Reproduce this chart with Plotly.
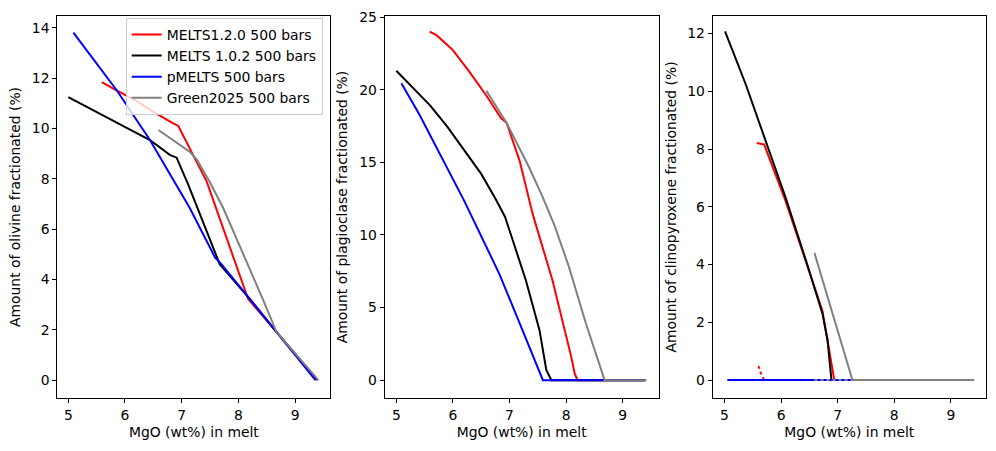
import plotly.graph_objects as go

# ---------------- data ----------------
models = ["MELTS1.2.0 500 bars", "MELTS 1.0.2 500 bars", "pMELTS 500 bars", "Green2025 500 bars"]
colors = ["red", "black", "blue", "grey"]

# Olivine
ol_red_x = [5.59, 5.85, 6.2, 6.5, 6.85, 6.94, 7.2, 7.44, 8.17, 8.67, 9.38]
ol_red_y = [11.84, 11.51, 11.1, 10.66, 10.2, 10.1, 8.95, 7.9, 3.23, 1.92, 0.0]
ol_blk_x = [5.0, 5.73, 6.44, 6.79, 6.91, 7.11, 7.67, 8.2, 8.67, 9.4]
ol_blk_y = [11.25, 10.39, 9.54, 8.95, 8.84, 7.8, 4.61, 3.23, 1.92, 0.0]
ol_blu_x = [5.09, 5.86, 6.44, 6.85, 7.14, 7.59, 7.70, 8.2, 8.67, 9.36]
ol_blu_y = [13.81, 11.5, 9.54, 7.93, 6.85, 4.87, 4.61, 3.23, 1.92, 0.0]
ol_gry_x = [6.59, 7.14, 7.27, 7.5, 7.73, 8.14, 8.44, 8.67, 9.41]
ol_gry_y = [9.94, 9.08, 8.75, 7.85, 6.85, 4.75, 3.17, 1.92, 0.0]

# Plagioclase
pl_red_x = [5.59, 5.71, 6.0, 6.29, 6.59, 6.85, 6.95, 7.18, 7.41, 7.76, 8.09, 8.15, 8.2, 9.4]
pl_red_y = [24.0, 23.75, 22.72, 21.24, 19.6, 18.04, 17.7, 15.08, 11.43, 6.86, 1.62, 0.48, 0.0, 0.0]
pl_blk_x = [5.0, 5.3, 5.6, 5.9, 6.2, 6.5, 6.75, 6.92, 7.06, 7.29, 7.53, 7.65, 7.74, 9.4]
pl_blk_y = [21.3, 20.1, 18.9, 17.45, 15.85, 14.2, 12.5, 11.25, 9.6, 6.86, 3.44, 0.71, 0.0, 0.0]
pl_blu_x = [5.09, 5.41, 6.2, 6.82, 7.18, 7.5, 7.59, 9.36]
pl_blu_y = [20.44, 18.27, 12.34, 7.32, 3.9, 0.82, 0.0, 0.0]
pl_gry_x = [6.59, 6.95, 7.35, 7.59, 7.8, 8.05, 8.35, 8.59, 8.68, 9.42]
pl_gry_y = [19.92, 17.7, 14.62, 12.57, 10.6, 7.8, 3.9, 1.16, 0.0, 0.0]

# Clinopyroxene
cpx_red_x = [5.57, 5.70, 6.08, 6.44, 6.73, 6.85, 6.94, 9.4]
cpx_red_y = [8.21, 8.16, 6.2, 4.1, 2.4, 1.04, 0.0, 0.0]
cpx_blk_x = [5.01, 5.38, 5.73, 6.08, 6.44, 6.73, 6.82, 6.89, 9.4]
cpx_blk_y = [12.08, 10.22, 8.27, 6.32, 4.14, 2.31, 1.39, 0.0, 0.0]
cpx_blu_x = [5.05, 6.0, 7.0, 8.0, 9.36]
cpx_blu_y = [0.0, 0.0, 0.0, 0.0, 0.0]
cpx_gry_x = [6.59, 7.2, 7.26, 9.41]
cpx_gry_y = [4.4, 0.36, 0.0, 0.0]
# secondary (dotted) series in the clinopyroxene panel
cpx_red_dot_x = [5.6, 5.64, 5.7, 9.4]
cpx_red_dot_y = [0.49, 0.26, 0.0, 0.0]
cpx_gry_dot_x = [6.59, 9.41]
cpx_gry_dot_y = [0.0, 0.0]

x_ticks = [5, 6, 7, 8, 9]
ol_ticks = [0, 2, 4, 6, 8, 10, 12, 14]
pl_ticks = [0, 5, 10, 15, 20, 25]
cpx_ticks = [0, 2, 4, 6, 8, 10, 12]

xtitle = "MgO (wt%) in melt"
ytitles = ["Amount of olivine fractionated (%)",
           "Amount of plagioclase fractionated (%)",
           "Amount of clinopyroxene fractionated (%)"]

# ---------------- figure ----------------
FONT = "DejaVu Sans"
FS = 13.9
fig = go.Figure()
LW = 2

ol = [(ol_red_x, ol_red_y), (ol_blk_x, ol_blk_y), (ol_blu_x, ol_blu_y), (ol_gry_x, ol_gry_y)]
pl = [(pl_red_x, pl_red_y), (pl_blk_x, pl_blk_y), (pl_blu_x, pl_blu_y), (pl_gry_x, pl_gry_y)]
cpx = [(cpx_red_x, cpx_red_y), (cpx_blk_x, cpx_blk_y), (cpx_blu_x, cpx_blu_y), (cpx_gry_x, cpx_gry_y)]

for i, (x, y) in enumerate(ol):
    fig.add_trace(go.Scatter(x=x, y=y, mode="lines", name=models[i],
                             line=dict(color=colors[i], width=LW),
                             xaxis="x", yaxis="y", showlegend=True))
for i, (x, y) in enumerate(pl):
    fig.add_trace(go.Scatter(x=x, y=y, mode="lines", name=models[i],
                             line=dict(color=colors[i], width=LW),
                             xaxis="x2", yaxis="y2", showlegend=False))
cpx_order = [("solid", 0, cpx[0]), ("dot", 0, (cpx_red_dot_x, cpx_red_dot_y)),
             ("solid", 1, cpx[1]), ("solid", 2, cpx[2]),
             ("solid", 3, cpx[3]), ("dot", 3, (cpx_gry_dot_x, cpx_gry_dot_y))]
for dash, i, (x, y) in cpx_order:
    fig.add_trace(go.Scatter(x=x, y=y, mode="lines", name=models[i],
                             line=dict(color=colors[i], width=LW, dash=dash),
                             xaxis="x3", yaxis="y3", showlegend=False))

axis_common = dict(showline=True, linecolor="black", linewidth=1, mirror=True,
                   ticks="outside", ticklen=4, tickwidth=1, tickcolor="black",
                   showgrid=False, zeroline=False,
                   tickfont=dict(family=FONT, size=FS, color="black"))

ML, MR, MT, MB = 57, 9, 13, 53
W, H = 996, 451
PW = W - ML - MR

def dom(a, b):
    return [max(0, (a - ML) / PW), min(1, (b - ML) / PW)]

tfont = dict(family=FONT, size=FS, color="black")
fig.update_layout(
    width=W, height=H,
    margin=dict(l=ML, r=MR, t=MT, b=MB),
    paper_bgcolor="white", plot_bgcolor="white",
    font=dict(family=FONT, size=FS, color="black"),
    xaxis=dict(domain=dom(57.3, 330.7), range=[4.806, 9.623], tickvals=x_ticks,
               title=dict(text=xtitle, standoff=5, font=tfont), anchor="y", **axis_common),
    yaxis=dict(domain=[0, 1], range=[-0.71, 14.47], tickvals=ol_ticks,
               title=dict(text=ytitles[0], standoff=7, font=tfont), anchor="x", **axis_common),
    xaxis2=dict(domain=dom(385, 659.3), range=[4.794, 9.635], tickvals=x_ticks,
                title=dict(text=xtitle, standoff=5, font=tfont), anchor="y2", **axis_common),
    yaxis2=dict(domain=[0, 1], range=[-1.23, 25.07], tickvals=pl_ticks,
                title=dict(text=ytitles[1], standoff=8, font=tfont), anchor="x2", **axis_common),
    xaxis3=dict(domain=dom(713.3, 987.3), range=[4.79, 9.62], tickvals=x_ticks,
                title=dict(text=xtitle, standoff=5, font=tfont), anchor="y3", **axis_common),
    yaxis3=dict(domain=[0, 1], range=[-0.62, 12.61], tickvals=cpx_ticks,
                title=dict(text=ytitles[2], standoff=7, font=tfont), anchor="x3", **axis_common),
    legend=dict(x=(323 - ML) / PW, xanchor="right", y=1 - (15 - MT) / (H - MT - MB), yanchor="top",
                bgcolor="rgba(255,255,255,0.8)", bordercolor="#cccccc", borderwidth=1,
                font=dict(family=FONT, size=FS, color="black"), tracegroupgap=0),
    showlegend=True,
)

fig.write_html("out.html")
